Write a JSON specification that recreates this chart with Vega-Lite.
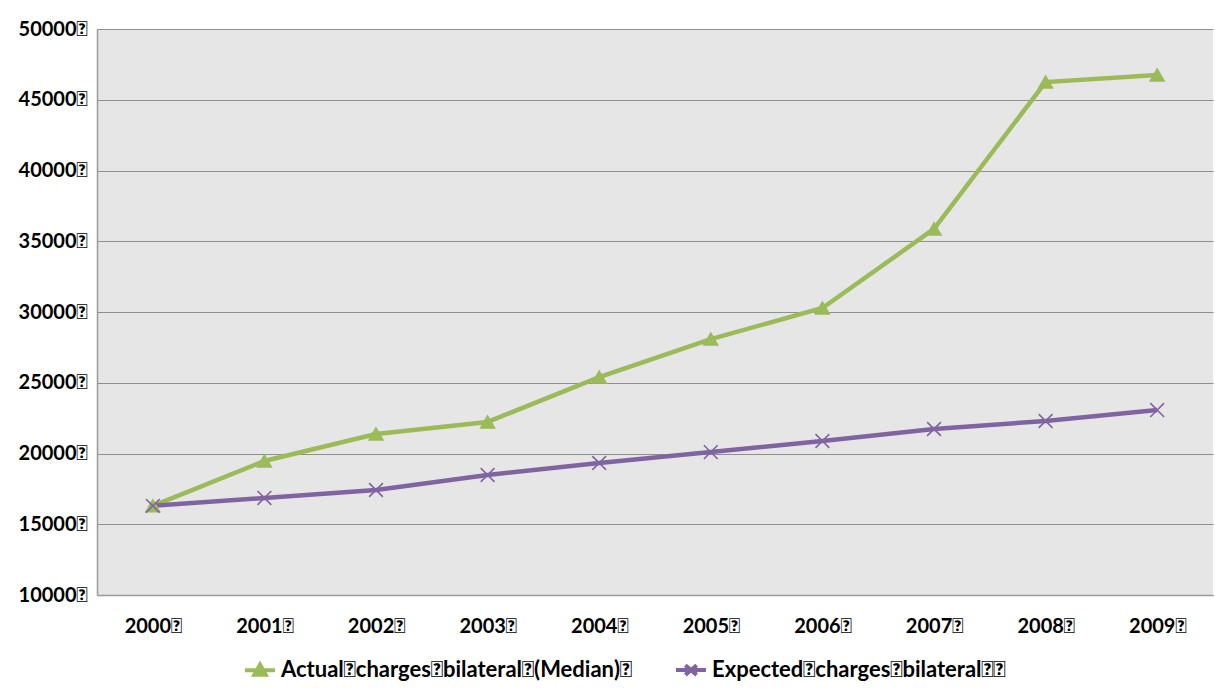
{
  "$schema": "https://vega.github.io/schema/vega-lite/v6.json",
  "width": 1116,
  "height": 566,
  "autosize": {"type": "none"},
  "padding": {"left": 97, "top": 29, "right": 2, "bottom": 103},
  "background": "#ffffff",
  "config": {
    "view": {"fill": "#e6e6e6", "stroke": null},
    "font": "Lato",
    "axis": {"labelFont": "Lato", "labelFontWeight": "bold", "labelFontSize": 20, "labelColor": "#000000", "ticks": false, "title": null, "domainColor": "#9a9a9a", "domainWidth": 1.5}
  },
  "data": {
    "values": [
      {"year": "2000", "series": "Actual\uf020charges\uf020bilateral\uf020(Median)\uf020", "value": 16300},
      {"year": "2001", "series": "Actual\uf020charges\uf020bilateral\uf020(Median)\uf020", "value": 19470},
      {"year": "2002", "series": "Actual\uf020charges\uf020bilateral\uf020(Median)\uf020", "value": 21380},
      {"year": "2003", "series": "Actual\uf020charges\uf020bilateral\uf020(Median)\uf020", "value": 22230},
      {"year": "2004", "series": "Actual\uf020charges\uf020bilateral\uf020(Median)\uf020", "value": 25400},
      {"year": "2005", "series": "Actual\uf020charges\uf020bilateral\uf020(Median)\uf020", "value": 28090},
      {"year": "2006", "series": "Actual\uf020charges\uf020bilateral\uf020(Median)\uf020", "value": 30280},
      {"year": "2007", "series": "Actual\uf020charges\uf020bilateral\uf020(Median)\uf020", "value": 35870},
      {"year": "2008", "series": "Actual\uf020charges\uf020bilateral\uf020(Median)\uf020", "value": 46250},
      {"year": "2009", "series": "Actual\uf020charges\uf020bilateral\uf020(Median)\uf020", "value": 46750},
      {"year": "2000", "series": "Expected\uf020charges\uf020bilateral\uf020\uf020", "value": 16300},
      {"year": "2001", "series": "Expected\uf020charges\uf020bilateral\uf020\uf020", "value": 16860},
      {"year": "2002", "series": "Expected\uf020charges\uf020bilateral\uf020\uf020", "value": 17420},
      {"year": "2003", "series": "Expected\uf020charges\uf020bilateral\uf020\uf020", "value": 18480},
      {"year": "2004", "series": "Expected\uf020charges\uf020bilateral\uf020\uf020", "value": 19330},
      {"year": "2005", "series": "Expected\uf020charges\uf020bilateral\uf020\uf020", "value": 20100},
      {"year": "2006", "series": "Expected\uf020charges\uf020bilateral\uf020\uf020", "value": 20880},
      {"year": "2007", "series": "Expected\uf020charges\uf020bilateral\uf020\uf020", "value": 21730},
      {"year": "2008", "series": "Expected\uf020charges\uf020bilateral\uf020\uf020", "value": 22300},
      {"year": "2009", "series": "Expected\uf020charges\uf020bilateral\uf020\uf020", "value": 23070}
    ]
  },
  "encoding": {
    "x": {
      "field": "year", "type": "ordinal", "sort": null,
      "scale": {"padding": 0.5},
      "axis": {"labelAngle": 0, "labelPadding": 21, "grid": false, "labelExpr": "datum.label + '\uf020'"}
    },
    "y": {
      "field": "value", "type": "quantitative",
      "scale": {"domain": [10000, 50000], "nice": false, "zero": false},
      "axis": {"values": [10000, 15000, 20000, 25000, 30000, 35000, 40000, 45000, 50000], "format": "d", "labelPadding": 10, "grid": true, "gridColor": "#8f8f8f", "gridWidth": 1, "labelExpr": "datum.label + '\uf020'"}
    },
    "color": {
      "field": "series", "type": "nominal", "sort": null,
      "scale": {"range": ["#9BBB59", "#8064A2"]},
      "legend": {
        "title": null, "orient": "none", "direction": "horizontal",
        "legendX": 146, "legendY": 624,
        "labelFont": "Lato", "labelFontWeight": "bold", "labelFontSize": 22, "labelColor": "#000000",
        "symbolSize": 900, "symbolStrokeWidth": 4, "labelOffset": 4, "columnPadding": 35,
        "labelLimit": 500,
        "encode": {
          "symbols": {
            "update": {
              "shape": {"signal": "indexof(datum.value, 'Actual') === 0 ? 'M-1,0H1M0,-0.38L0.38,0.3L-0.38,0.3Z' : 'M-1,0H1M-0.38,-0.32L0.38,0.32M-0.38,0.32L0.38,-0.32'"},
              "fill": {"signal": "scale('color', datum.value)"},
              "stroke": {"signal": "scale('color', datum.value)"}
            }
          }
        }
      }
    }
  },
  "layer": [
    {"mark": {"type": "line", "strokeWidth": 4.5}},
    {
      "mark": {"type": "point", "filled": false, "opacity": 1, "strokeWidth": 1.6},
      "encoding": {
        "shape": {
          "field": "series", "type": "nominal", "sort": null, "legend": null,
          "scale": {"range": ["triangle-up", "M-1,-1L1,1M-1,1L1,-1"]}
        },
        "fill": {
          "field": "series", "type": "nominal", "sort": null, "legend": null,
          "scale": {"range": ["#9BBB59", "transparent"]}
        },
        "size": {"value": 190}
      }
    }
  ]
}
